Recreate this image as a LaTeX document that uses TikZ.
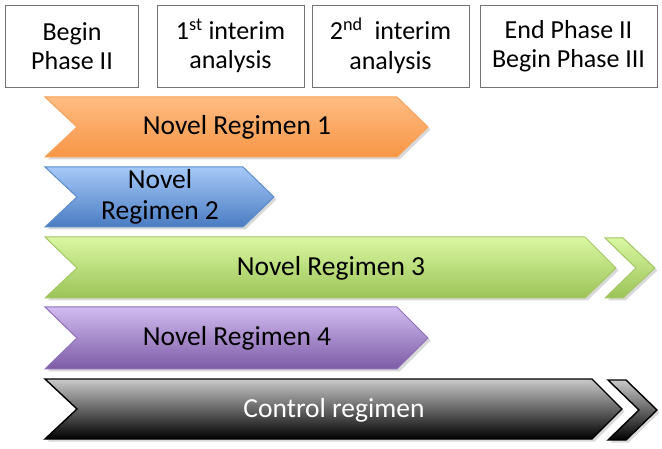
\documentclass[tikz,border=0pt]{standalone}
\usepackage{fontspec}
\setmainfont{Carlito}
\usetikzlibrary{shadows}
\definecolor{orT}{HTML}{FFBC82}\definecolor{orB}{HTML}{F79646}\definecolor{orD}{HTML}{F9A25A}
\definecolor{blT}{HTML}{A6C9F8}\definecolor{blB}{HTML}{4A7CC2}\definecolor{blD}{HTML}{5A8CCB}
\definecolor{grT}{HTML}{DAF7A2}\definecolor{grB}{HTML}{9CC358}\definecolor{grD}{HTML}{A3C863}
\definecolor{puT}{HTML}{D0BCF0}\definecolor{puB}{HTML}{7D5BA6}\definecolor{puD}{HTML}{8E70B8}
\definecolor{bkT}{HTML}{CACACA}\definecolor{bkB}{HTML}{000000}
\tikzset{
  hdr/.style={draw=black!55, line width=0.8pt, minimum width=#1, minimum height=82pt, align=center, font=\fontsize{26}{29.5}\selectfont, inner sep=0pt},
  arr/.style={line width=1pt, drop shadow={opacity=0.3, shadow xshift=2.5pt, shadow yshift=-2.5pt}},
  lbl/.style={font=\fontsize{27.5}{31}\selectfont, align=center, inner sep=0pt}
}
\begin{document}
\begin{tikzpicture}[x=1pt,y=-1pt]
\useasboundingbox (0,0) rectangle (662,449);
% header boxes
\node[hdr=133pt] (h1) at (72,46) {Begin\\Phase II};
\node[hdr=147pt] (h2) at (230.5,46) {1\textsuperscript{st} interim\\analysis};
\node[hdr=157pt] (h3) at (390.5,46) {2\textsuperscript{nd}\ \ interim\\analysis};
\node[hdr=177pt] (h4) at (568.5,46) {End Phase II\\Begin Phase III};
% orange
\shade[arr, top color=orT, bottom color=orB, draw=orD]
  (45,97) -- (397,97) -- (428,127) -- (397,157) -- (45,157) -- (77,127) -- cycle;
\node[lbl] (r1) at (237,127) {Novel Regimen 1};
% blue
\shade[arr, top color=blT, bottom color=blB, draw=blD]
  (45,167) -- (243,167) -- (274,197) -- (243,227) -- (45,227) -- (77,197) -- cycle;
\node[lbl] (r2) at (160,197) {Novel\\Regimen 2};
% green
\shade[arr, top color=grT, bottom color=grB, draw=grD]
  (45,237) -- (585,237) -- (616,268) -- (585,298) -- (45,298) -- (77,268) -- cycle;
\shade[arr, top color=grT, bottom color=grB, draw=grD]
  (605,238) -- (623,238) -- (655,268) -- (623,298) -- (605,298) -- (636,268) -- cycle;
\node[lbl] (r3) at (331,268) {Novel Regimen 3};
% purple
\shade[arr, top color=puT, bottom color=puB, draw=puD]
  (45,307) -- (397,307) -- (428,338) -- (397,369) -- (45,369) -- (77,338) -- cycle;
\node[lbl] (r4) at (237,338) {Novel Regimen 4};
% black
\shade[arr, top color=bkT, bottom color=bkB, draw=black, line width=1.4pt]
  (45,379) -- (592,379) -- (622,409) -- (592,439) -- (45,439) -- (77,409) -- cycle;
\shade[arr, top color=bkT, bottom color=bkB, draw=black, line width=1.4pt]
  (608,380) -- (626,380) -- (657,410) -- (626,440) -- (608,440) -- (639,410) -- cycle;
\node[lbl, text=white] (r5) at (334,410) {Control regimen};
\end{tikzpicture}
\end{document}
